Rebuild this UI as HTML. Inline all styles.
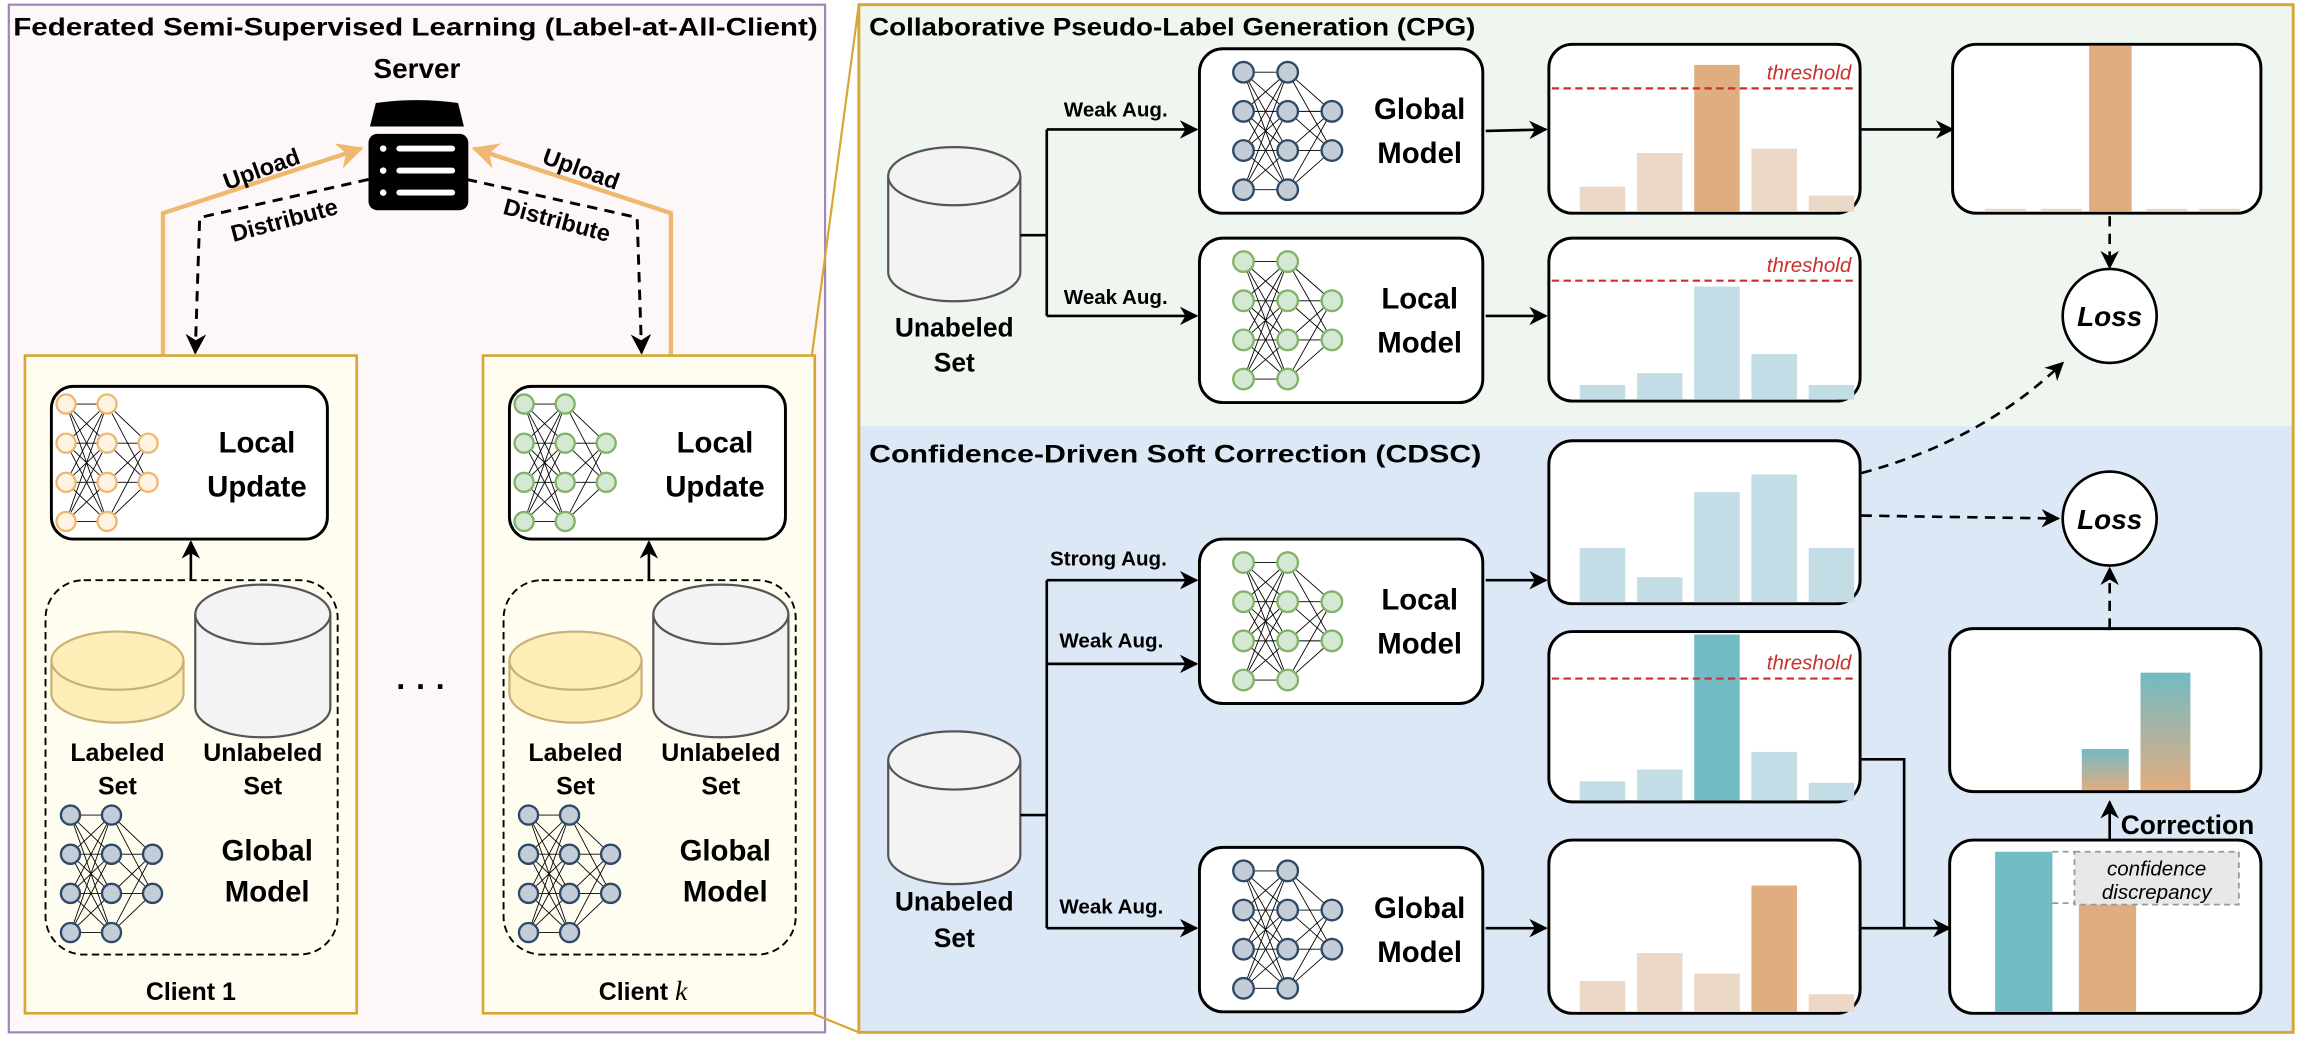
<!DOCTYPE html>
<html><head><meta charset="utf-8"><style>
html,body{margin:0;padding:0;background:#fff;}
svg{display:block;}
text{font-family:"Liberation Sans",sans-serif;}
.b{font-weight:bold;}
</style></head><body>
<svg id="s" width="2302" height="1040" viewBox="0 0 1568 708" xmlns="http://www.w3.org/2000/svg">
<defs>
<marker id="ah" viewBox="0 0 10 10" refX="9" refY="5" markerWidth="7" markerHeight="7" orient="auto-start-reverse"><path d="M0,0 L10,5 L0,10 L3,5 z" fill="#000"/></marker>
<marker id="ao" viewBox="0 0 10 10" refX="9" refY="5" markerWidth="6" markerHeight="6" orient="auto"><path d="M0,0 L10,5 L0,10 L3,5 z" fill="#efb870"/></marker>
<linearGradient id="gr" x1="0" y1="0" x2="0" y2="1"><stop offset="0" stop-color="#72bac4"/><stop offset="1" stop-color="#e2ad80"/></linearGradient>
</defs>
<rect x="6" y="3" width="556" height="700" fill="#fdf8f7" stroke="#9d86b8" stroke-width="1.5"/>
<text x="9" y="24" class="b" font-size="17" textLength="548" lengthAdjust="spacingAndGlyphs">Federated Semi-Supervised Learning (Label-at-All-Client)</text>
<text x="284" y="53" class="b" font-size="19" text-anchor="middle">Server</text>
<path d="M256,70 Q284,66 312,70 L316,86 L252,86 Z" fill="#000"/>
<rect x="251" y="91" width="68" height="52" rx="6" fill="#000"/>
<g fill="#fff"><circle cx="261" cy="101" r="2.2"/><circle cx="261" cy="116" r="2.2"/><circle cx="261" cy="131" r="2.2"/>
<rect x="270" y="99" width="40" height="4" rx="2"/><rect x="270" y="114" width="40" height="4" rx="2"/><rect x="270" y="129" width="40" height="4" rx="2"/></g>
<polyline points="111,242 111,145 246,101" fill="none" stroke="#efb870" stroke-width="3" marker-end="url(#ao)"/>
<polyline points="457,242 457,145 323,101" fill="none" stroke="#efb870" stroke-width="3" marker-end="url(#ao)"/>
<polyline points="251,122 136,148 133,240" fill="none" stroke="#000" stroke-width="2" stroke-dasharray="7,5" marker-end="url(#ah)"/>
<polyline points="318,122 434,148 437,240" fill="none" stroke="#000" stroke-width="2" stroke-dasharray="7,5" marker-end="url(#ah)"/>
<text x="180" y="120" class="b" font-size="16" text-anchor="middle" transform="rotate(-20 180 120)">Upload</text>
<text x="195" y="155" class="b" font-size="16" text-anchor="middle" transform="rotate(-15 195 155)">Distribute</text>
<text x="394" y="120" class="b" font-size="16" text-anchor="middle" transform="rotate(20 394 120)">Upload</text>
<text x="378" y="155" class="b" font-size="16" text-anchor="middle" transform="rotate(15 378 155)">Distribute</text>
<text x="287" y="475" class="b" font-size="22" text-anchor="middle">· · ·</text>
<g id="c1"></g>
<line x1="553" y1="242" x2="585" y2="3" stroke="#d6a737" stroke-width="1.5"/>
<line x1="553" y1="690" x2="585" y2="703" stroke="#d6a737" stroke-width="1.5"/>
<rect x="585" y="3" width="977" height="287" fill="#eef6ef"/>
<rect x="585" y="290" width="977" height="413" fill="#dde8f7"/>
<rect x="585" y="3" width="977" height="700" fill="none" stroke="#d6a737" stroke-width="2"/>
<text x="592" y="24" class="b" font-size="17" textLength="413" lengthAdjust="spacingAndGlyphs">Collaborative Pseudo-Label Generation (CPG)</text>
<text x="592" y="315" class="b" font-size="17" textLength="417" lengthAdjust="spacingAndGlyphs">Confidence-Driven Soft Correction (CDSC)</text>
<g id="r"></g>
</svg>
<script>
const NS="http://www.w3.org/2000/svg";
function el(p,t,a,txt){const e=document.createElementNS(NS,t);for(const k in a)e.setAttribute(k,a[k]);if(txt!==undefined)e.textContent=txt;p.appendChild(e);return e;}
const C=document.getElementById('c1'),R=document.getElementById('r');
const COL={g:['#c3ccd7','#2f4a66'],l:['#d5e8d4','#82b366'],o:['#fff3e3','#efb870']};
function net(p,x,y,h,c,r){
 const xs=[x,x+r*4.3,x+r*8.6];const l1=[0,1,2,3].map(i=>y+i*h/3);const l3=[y+h/3,y+2*h/3];
 const L=[l1,l1,l3];
 for(let a=0;a<2;a++)for(const y1 of L[a])for(const y2 of L[a+1])el(p,'line',{x1:xs[a],y1:y1,x2:xs[a+1],y2:y2,stroke:'#000','stroke-width':0.6});
 for(let a=0;a<3;a++)for(const yy of L[a])el(p,'circle',{cx:xs[a],cy:yy,r:r,fill:COL[c][0],stroke:COL[c][1],'stroke-width':1.6});
}
function box(p,x,y,w,h,rx){el(p,'rect',{x:x,y:y,width:w,height:h,rx:rx||14,fill:'#fff',stroke:'#000','stroke-width':2});}
function t(p,x,y,s,sz,extra){const a={x:x,y:y,'font-size':sz||19,'text-anchor':'middle','font-weight':'bold'};Object.assign(a,extra||{});return el(p,'text',a,s);}
function cyl(p,x,y,w,h,fill,st){const ry=w*0.22;
 el(p,'path',{d:`M${x},${y+ry} L${x},${y+h-ry} A${w/2},${ry} 0 0 0 ${x+w},${y+h-ry} L${x+w},${y+ry}`,fill:fill,stroke:st,'stroke-width':1.5});
 el(p,'ellipse',{cx:x+w/2,cy:y+ry,rx:w/2,ry:ry,fill:fill,stroke:st,'stroke-width':1.5});}
function arr(p,pts,dash){const a={points:pts,fill:'none',stroke:'#000','stroke-width':1.8,'marker-end':'url(#ah)'};if(dash)a['stroke-dasharray']='7,5';el(p,'polyline',a);}
[[0,'o','l'],[312,'l','g']].forEach(([dx,c1,c2],i)=>{
 el(C,'rect',{x:17+dx,y:242,width:226,height:448,fill:'#fffdf0',stroke:'#d6a737','stroke-width':1.8});
 box(C,35+dx,263,188,104,15);net(C,45+dx,275,80,c1,6.5);
 t(C,175+dx,308,'Local',20);t(C,175+dx,338,'Update',20);
 arr(C,`${130+dx},395 ${130+dx},369`);
 el(C,'rect',{x:31+dx,y:395,width:199,height:255,rx:26,fill:'none',stroke:'#000','stroke-width':1.3,'stroke-dasharray':'5,3'});
 cyl(C,35+dx,430,90,62,'#fdeeb8','#c9b078');cyl(C,133+dx,398,92,104,'#f3f3f3','#555');
 t(C,80+dx,518,'Labeled',17);t(C,80+dx,541,'Set',17);
 t(C,179+dx,518,'Unlabeled',17);t(C,179+dx,541,'Set',17);
 net(C,48+dx,555,80,'g',6.5);t(C,182+dx,586,'Global',20);t(C,182+dx,614,'Model',20);
 if(i==0)t(C,130+dx,681,'Client 1',17);else{const e=t(C,438,681,'Client ',17);el(e,'tspan',{'font-style':'italic','font-family':'Liberation Serif,serif','font-weight':'normal','font-size':19},'k');}
});
cyl(R,605,100,90,105,'#f3f3f3','#555');t(R,650,229,'Unabeled',18);t(R,650,253,'Set',18);
el(R,'polyline',{points:'695,160 713,160',fill:'none',stroke:'#000','stroke-width':1.8});
el(R,'line',{x1:713,y1:88,x2:713,y2:215,stroke:'#000','stroke-width':1.8});
arr(R,'713,88 815,88');arr(R,'713,215 815,215');
t(R,760,79,'Weak Aug.',14);t(R,760,207,'Weak Aug.',14);
function model(y,c,n1){box(R,817,y,193,112,16);net(R,847,y+16,80,c,7);t(R,967,y+48,n1,20);t(R,967,y+78,'Model',20);}
model(33,'g','Global');model(162,'l','Local');model(367,'l','Local');model(577,'g','Global');
function chart(y,h,tops,cols,th){box(R,1055,y,212,h,16);const bot=y+h-1;
 tops.forEach((tp,i)=>el(R,'rect',{x:1076+i*39,y:tp,width:31,height:bot-tp,fill:cols[i]}));
 if(th){el(R,'line',{x1:1057,y1:th,x2:1264,y2:th,stroke:'#c9302c','stroke-width':1.5,'stroke-dasharray':'5,3'});
 el(R,'text',{x:1261,y:th-6,'font-size':14,'font-style':'italic',fill:'#c9302c','text-anchor':'end'},'threshold');}}
const lo='#ecd8c6',do_='#e0ad80',lb='#c2dde6',tb='#72bac4';
chart(30,115,[127,104,44,101,133],[lo,lo,do_,lo,lo],60);
chart(162,111,[262,254,195,241,262],[lb,lb,lb,lb,lb],191);
chart(300,111,[373,393,335,323,373],[lb,lb,lb,lb,lb]);
chart(430,116,[532,524,432,512,533],[lb,lb,tb,lb,lb],462);
chart(572,118,[668,649,663,603,677],[lo,lo,lo,do_,lo]);
arr(R,'1012,89 1053,88');arr(R,'1012,215 1053,215');arr(R,'1012,395 1053,395');arr(R,'1012,632 1053,632');
arr(R,'1268,88 1330,88');
box(R,1330,30,210,115,16);
[1352,1390,1462,1498].forEach(x=>el(R,'rect',{x:x,y:142,width:28,height:2,fill:lo}));
el(R,'rect',{x:1423,y:31,width:29,height:113,fill:do_});
arr(R,'1437,147 1437,182',true);
function loss(cy){el(R,'circle',{cx:1437,cy:cy,r:32,fill:'#fff',stroke:'#000','stroke-width':1.8});t(R,1437,cy+7,'Loss',19,{'font-style':'italic'});}
loss(215);loss(353);
el(R,'path',{d:'M1268,322 Q1350,300 1405,247',fill:'none',stroke:'#000','stroke-width':1.8,'stroke-dasharray':'7,5','marker-end':'url(#ah)'});
arr(R,'1268,351 1402,353',true);
cyl(R,605,498,90,104,'#f3f3f3','#555');t(R,650,620,'Unabeled',18);t(R,650,645,'Set',18);
el(R,'polyline',{points:'695,555 713,555',fill:'none',stroke:'#000','stroke-width':1.8});
el(R,'line',{x1:713,y1:395,x2:713,y2:632,stroke:'#000','stroke-width':1.8});
arr(R,'713,395 815,395');arr(R,'713,452 815,452');arr(R,'713,632 815,632');
t(R,755,385,'Strong Aug.',14);t(R,757,441,'Weak Aug.',14);t(R,757,622,'Weak Aug.',14);
el(R,'polyline',{points:'1268,517 1297,517 1297,632',fill:'none',stroke:'#000','stroke-width':1.8});
arr(R,'1268,632 1328,632');
box(R,1328,572,212,118,16);
el(R,'rect',{x:1359,y:580,width:39,height:109,fill:tb});
el(R,'rect',{x:1416,y:615,width:39,height:74,fill:do_});
el(R,'line',{x1:1398,y1:580,x2:1413,y2:580,stroke:'#999','stroke-width':1.2,'stroke-dasharray':'4,3'});
el(R,'line',{x1:1398,y1:615,x2:1416,y2:615,stroke:'#999','stroke-width':1.2,'stroke-dasharray':'4,3'});
el(R,'rect',{x:1413,y:580,width:112,height:36,fill:'#e8e8e8',stroke:'#999','stroke-width':1.2,'stroke-dasharray':'4,3'});
el(R,'text',{x:1469,y:596,'font-size':14,'font-style':'italic','text-anchor':'middle'},'confidence');
el(R,'text',{x:1469,y:612,'font-size':14,'font-style':'italic','text-anchor':'middle'},'discrepancy');
arr(R,'1437,572 1437,546');
t(R,1490,568,'Correction',18);
box(R,1328,428,212,111,16);
el(R,'rect',{x:1418,y:510,width:32,height:28,fill:'url(#gr)'});
el(R,'rect',{x:1458,y:458,width:34,height:80,fill:'url(#gr)'});
arr(R,'1437,428 1437,387',true);
</script>
</body></html>
